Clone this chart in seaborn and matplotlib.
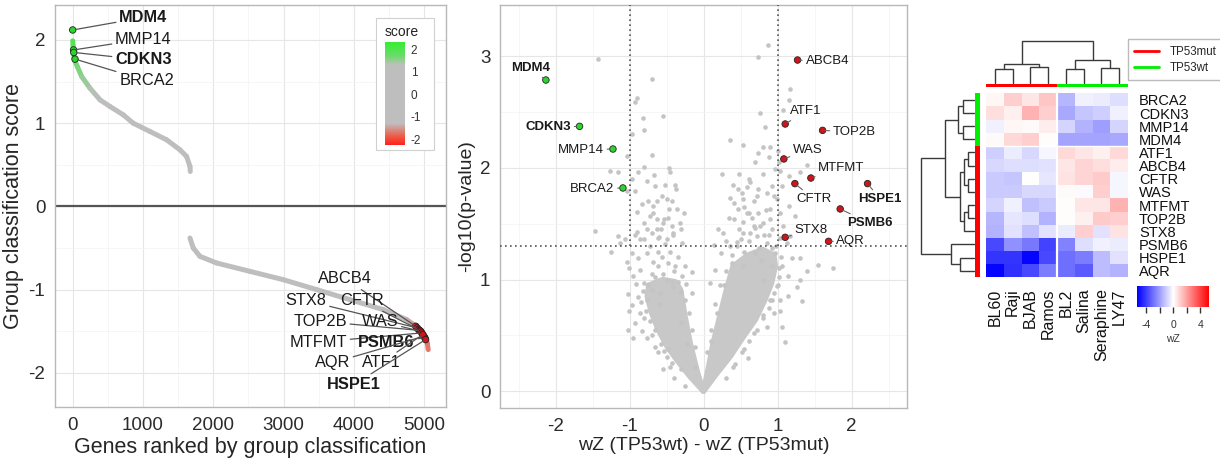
import numpy as np
import pandas as pd
import matplotlib
matplotlib.use("Agg")
import matplotlib.pyplot as plt
import seaborn as sns
from matplotlib.collections import LineCollection
from matplotlib.colors import LinearSegmentedColormap, Normalize
from matplotlib.cm import ScalarMappable
from matplotlib.lines import Line2D
from matplotlib.patches import Rectangle
from matplotlib.ticker import MultipleLocator, FixedLocator

# ======================= DATA =======================
# Panel A: genes ranked by group classification score (curve)
rank_pos = [0, 5, 12, 22, 35, 66, 128, 246, 389, 531, 720, 860, 1100, 1336, 1526, 1620, 1668, 1672]
score_pos = [1.99, 1.93, 1.85, 1.79, 1.74, 1.68, 1.56, 1.42, 1.28, 1.20, 1.10, 1.00, 0.90, 0.80, 0.68, 0.60, 0.48, 0.42]
rank_neg = [1668, 1715, 1810, 2047, 2520, 2995, 3470, 3943, 4417, 4750, 4850, 4940, 4990, 5020, 5045, 5057]
score_neg = [-0.38, -0.50, -0.60, -0.68, -0.78, -0.88, -1.00, -1.12, -1.24, -1.36, -1.42, -1.48, -1.53, -1.58, -1.65, -1.72]

genes_a = ["MDM4", "MMP14", "CDKN3", "BRCA2", "ABCB4", "STX8", "CFTR", "TOP2B",
           "WAS", "MTFMT", "PSMB6", "AQR", "ATF1", "HSPE1"]
rank_a = [0, 12, 15, 33, 4880, 4900, 4920, 4935, 4950, 4965, 5010, 4995, 4980, 5020]
score_a = [2.12, 1.88, 1.85, 1.77, -1.44, -1.46, -1.48, -1.49, -1.50, -1.52, -1.58, -1.56, -1.54, -1.60]
bold_genes = ["MDM4", "CDKN3", "PSMB6", "HSPE1"]

# Panel B: volcano plot
vol_genes = ["MDM4", "CDKN3", "MMP14", "BRCA2", "ABCB4", "ATF1", "TOP2B", "WAS",
             "MTFMT", "CFTR", "HSPE1", "PSMB6", "STX8", "AQR"]
vol_wz = [-2.13, -1.675, -1.224, -1.089, 1.271, 1.104, 1.609, 1.086, 1.451, 1.235, 2.217, 1.847, 1.104, 1.690]
vol_logp = [2.788, 2.373, 2.170, 1.821, 2.967, 2.394, 2.337, 2.081, 1.910, 1.860, 1.860, 1.633, 1.379, 1.343]
vol_group = ["TP53wt"] * 4 + ["TP53mut"] * 10

bg_wz = [-1.42, -0.70, -0.90, -0.92, -0.55, -0.82, -0.80, -0.97, -0.69, -1.04, -1.26, -1.16, -0.88, -0.80,
         -0.67, -0.46, -0.45, -0.77, -0.38, -0.37, -0.97, -1.04, -0.92, -0.65, -0.56, -0.63, -0.50, -0.68,
         -0.83, -0.36, -0.90, -0.72, -0.63, -0.55, -0.81, -0.43, -0.77, -0.70, -0.61, -0.50, -0.41, -1.47,
         -1.15, -1.06, -0.92, -0.86, -1.25, -1.13,
         -1.02, -0.95, -1.01, -1.02, -0.97, -1.04, -1.01, -0.91, -0.89, -0.92, -0.83, -0.77, -0.65, -0.50,
         -0.54, -0.45, -0.16, -0.23, -0.29, -0.30, -0.16, -0.97, -0.88, -0.77, -0.68, -0.61, -0.41, -0.54,
         -0.68, -0.47, -0.63, -0.81, -0.90, -0.32, -0.38, -0.29, -0.95, -0.81, -0.70, -0.86, -0.50, -0.59,
         -0.77, -0.41,
         -0.62, -0.70, -0.80, -0.84, -0.55, -0.40, -0.25, -0.30, -0.22, -0.12, -0.42, -0.55, -0.70,
         -0.30, -0.42, -0.48, -0.58, -0.66, -0.72, -0.78, -0.82, -0.86, -0.75, -0.65, -0.60,
         -0.12, -0.15, -0.20, -0.25, -0.35, -0.40, -0.48, -0.56, -0.62, -0.45, -0.35, -0.25, -0.52, -0.60,
         -0.72, -0.30, -0.58, -0.48, -0.75, -0.42, -0.27, -0.52,
         0.87, 0.74, 1.17, 1.15, 0.77, 1.08, 0.83, 0.36, 0.54, 0.80, 0.90, 1.01, 0.74, 0.88, 1.40, 0.97,
         1.04, 1.15, 1.31, 0.63, 0.59, 0.47, 0.52, 0.74, 0.86, 0.92, 1.06, 0.36, 0.41, 0.54, 0.68, 0.99,
         1.15, 0.47, 0.61, 0.74, 0.90, 1.04, 1.24, 0.54, 0.68, 0.81, 0.92, 1.08, 0.54, 0.72, 0.88, 1.04,
         0.45,
         1.19, 1.31, 1.40, 1.55, 1.75, 1.06, 1.14, 1.31, 1.26, 1.33, 0.14, 1.10, 1.06, 1.04, 1.14,
         0.23, 0.36, 0.50, 0.63, 0.77, 0.90, 0.41, 0.59, 0.27, 0.86, 0.97, 0.92, 0.81, 0.99, 0.90, 0.95,
         0.86, 1.04, 0.70, 0.54, 0.16, 0.09, 1.13, 1.17,
         0.55, 0.68, 0.80, 0.92, 1.00, 0.30, 0.42, 0.10, 0.18, 0.28, 0.38, 0.55, 0.75, 1.02,
         0.40, 0.52, 0.62, 0.72, 0.80, 0.88, 0.95, 1.02, 1.05, 0.98, 0.60,
         0.05, 0.10, 0.15, 0.22, 0.30, 0.38, 0.45, 0.30, 0.20, 0.35, 0.48, 0.62, 0.70, 0.82, 0.92, 0.78,
         0.66, 0.55, 0.85, 0.72, 0.95, 0.62, 0.80, 1.02, 0.70, 0.48, 0.40, 0.25]
bg_logp = [2.98, 2.80, 2.63, 2.59, 2.47, 2.45, 2.34, 2.30, 2.12, 2.11, 1.97, 1.96, 1.96, 2.01,
           1.94, 2.00, 1.96, 1.88, 1.85, 1.81, 1.90, 1.79, 1.79, 1.84, 1.75, 1.70, 1.72, 1.66,
           1.68, 1.63, 1.61, 1.57, 1.54, 1.51, 1.51, 1.48, 1.45, 1.42, 1.37, 1.36, 1.40, 1.44,
           1.39, 1.36, 1.40, 1.36, 1.25, 1.33,
           0.55, 0.48, 0.72, 0.87, 0.77, 1.16, 1.10, 0.96, 0.84, 0.61, 0.54, 0.48, 0.40, 0.31,
           0.36, 0.22, 1.07, 0.96, 1.33, 0.89, 0.88, 1.24, 1.19, 1.24, 1.16, 1.25, 1.42, 1.54,
           1.60, 1.63, 1.45, 1.36, 1.43, 1.51, 1.12, 1.03, 1.03, 0.97, 0.91, 1.09, 1.00, 0.88,
           0.82, 0.93,
           0.35, 0.50, 0.66, 0.80, 0.20, 0.12, 0.05, 0.62, 0.42, 0.22, 0.98, 1.05, 1.05,
           0.20, 0.25, 0.38, 0.42, 0.55, 0.63, 0.72, 0.90, 0.70, 0.95, 1.02, 0.78,
           0.40, 0.55, 0.70, 0.82, 0.98, 1.08, 1.15, 1.20, 1.12, 1.25, 1.20, 1.12, 1.32, 1.38,
           1.30, 1.45, 1.45, 1.55, 1.70, 1.70, 1.60, 1.85,
           3.10, 2.99, 2.71, 2.61, 2.49, 2.52, 2.37, 2.25, 2.21, 2.19, 2.19, 2.15, 2.13, 2.10, 2.03, 1.99,
           1.97, 1.93, 1.96, 1.87, 1.83, 1.81, 1.78, 1.81, 1.78, 1.84, 1.84, 1.73, 1.69, 1.72, 1.70, 1.72,
           1.66, 1.63, 1.60, 1.60, 1.63, 1.60, 1.57, 1.52, 1.48, 1.51, 1.45, 1.48, 1.42, 1.39, 1.40, 1.37,
           1.34,
           1.19, 1.19, 1.08, 1.13, 1.10, 1.12, 1.03, 1.00, 0.93, 0.81, 1.31, 0.44, 0.58, 0.72, 0.85,
           1.24, 1.30, 1.36, 1.42, 1.48, 1.54, 1.54, 1.60, 1.42, 1.33, 1.24, 1.12, 1.00, 0.94, 0.82, 0.70,
           0.58, 0.82, 1.24, 1.12, 1.09, 0.97, 1.33, 1.39,
           0.38, 0.52, 0.66, 0.82, 0.95, 0.12, 0.24, 0.45, 0.70, 0.95, 1.15, 1.25, 1.28, 1.10,
           0.22, 0.35, 0.45, 0.55, 0.68, 0.75, 0.88, 1.02, 1.20, 1.30, 0.30,
           0.35, 0.55, 0.78, 0.95, 1.08, 1.22, 1.30, 1.35, 1.45, 1.55, 1.45, 1.35, 1.46, 1.40, 1.28, 1.18,
           1.55, 1.65, 1.62, 1.75, 1.75, 1.90, 1.95, 2.05, 2.05, 1.95, 1.85, 1.95]

# dense core of the two volcano arms (outline)
core_left_wz = [0.0, -0.18, -0.36, -0.49, -0.61, -0.70, -0.76, -0.74, -0.55, -0.38, -0.31, -0.25, -0.18, -0.09, -0.02]
core_left_logp = [0.0, 0.13, 0.28, 0.40, 0.55, 0.70, 0.85, 0.95, 1.00, 0.98, 0.91, 0.67, 0.43, 0.19, 0.03]
core_right_wz = [0.0, 0.18, 0.36, 0.54, 0.70, 0.83, 0.92, 0.97, 0.95, 0.80, 0.60, 0.40, 0.31, 0.22, 0.13, 0.07, 0.01]
core_right_logp = [0.0, 0.16, 0.31, 0.49, 0.64, 0.82, 0.97, 1.12, 1.22, 1.27, 1.22, 1.12, 0.91, 0.67, 0.43, 0.22, 0.03]

wz_cut = 1.0
p_cut = 0.05

# Panel C: heatmap
hm_rows = ["BRCA2", "CDKN3", "MMP14", "MDM4", "ATF1", "ABCB4", "CFTR", "WAS",
           "MTFMT", "TOP2B", "STX8", "PSMB6", "HSPE1", "AQR"]
hm_cols = ["BL60", "Raji", "BJAB", "Ramos", "BL2", "Salina", "Seraphine", "LY47"]
hm_row_group = ["TP53wt"] * 4 + ["TP53mut"] * 10
hm_col_group = ["TP53mut"] * 4 + ["TP53wt"] * 4
hm_values = [
    [0.2, 1.0, 0.5, 1.2, -1.5, -0.3, -0.4, -0.7],
    [0.7, 0.3, 1.6, 1.0, -1.8, -1.2, -1.0, -0.3],
    [-0.3, 0.2, 0.1, 0.4, -0.9, -1.6, -2.0, -0.9],
    [0.1, 0.8, 1.0, 0.05, -1.9, -1.9, -1.9, -1.8],
    [-1.0, -0.4, -0.8, -0.2, 0.8, 0.5, 0.3, 0.8],
    [-0.8, -0.7, -0.7, -0.6, 0.5, 0.9, 0.7, 0.4],
    [-1.1, -1.2, 0.0, -0.5, 0.6, 0.9, 1.1, -0.2],
    [-1.1, -1.1, -0.8, -0.8, 0.1, -0.1, 1.0, -0.2],
    [-0.9, -0.3, -1.3, -1.1, 0.05, 0.5, 0.5, 1.6],
    [-1.5, -0.5, -0.7, -1.6, 0.05, 0.3, 1.1, 1.0],
    [-1.6, -0.6, -1.3, -0.6, -0.4, 1.0, -0.6, 0.6],
    [-3.8, -2.3, -2.8, -3.9, -2.6, -0.7, -0.3, -0.4],
    [-4.2, -4.2, -5.2, -3.8, -3.0, -2.7, -1.4, -0.6],
    [-5.2, -4.3, -3.8, -2.7, -3.0, -3.4, -1.4, -1.6],
]
# dendrogram merges: (child a, child b, height)
row_merges = [(0, 1, 0.21), (2, 3, 0.21), (14, 15, 0.31), (4, 5, 0.11), (6, 7, 0.11),
              (17, 18, 0.19), (8, 9, 0.11), (20, 10, 0.19), (19, 21, 0.27), (16, 22, 0.55),
              (12, 13, 0.27), (11, 24, 0.44), (23, 25, 1.0)]
col_merges = [(0, 1, 0.34), (2, 3, 0.38), (8, 9, 0.44), (4, 5, 0.34), (6, 7, 0.36),
              (11, 12, 0.54), (10, 13, 1.0)]

# ======================= STYLE =======================
sns.set_style("white")
plt.rcParams["font.family"] = ["Liberation Sans", "DejaVu Sans"]
plt.rcParams["axes.unicode_minus"] = False

W, H = 1220, 462
fig = plt.figure(figsize=(W / 100, H / 100), dpi=100)


def px(l, t, r, b):
    return [l / W, 1 - b / H, (r - l) / W, (b - t) / H]


def gg_axes(ax):
    ax.set_facecolor("white")
    ax.grid(which="major", color="#e6e6e6", lw=0.8)
    ax.grid(which="minor", color="#f3f3f3", lw=0.5)
    ax.set_axisbelow(True)
    for s in ax.spines.values():
        s.set_color("#b8b8b8")
        s.set_linewidth(1.0)
    ax.tick_params(which="major", length=3.5, width=0.8, color="#333333", labelcolor="#2b2b2b")
    ax.tick_params(which="minor", length=0)


GREEN = "#2bd52b"
RED = "#d0141a"

# ======================= PANEL A =======================
ax1 = fig.add_axes(px(55, 5, 446, 407))
gg_axes(ax1)
score_nodes = [-2.25, -1.9, -1.3, 1.3, 1.75, 2.34]
score_cols = ["#ff1f1f", "#f0553f", "#bebebe", "#bebebe", "#66dd66", "#33ee33"]
vmin_s, vmax_s = score_nodes[0], score_nodes[-1]
score_cmap = LinearSegmentedColormap.from_list(
    "score", [((v - vmin_s) / (vmax_s - vmin_s), c) for v, c in zip(score_nodes, score_cols)])
score_norm = Normalize(vmin_s, vmax_s)

for rk, sc in [(rank_pos, score_pos), (rank_neg, score_neg)]:
    pts = np.column_stack([rk, sc])
    segs = np.stack([pts[:-1], pts[1:]], axis=1)
    mids = (pts[:-1, 1] + pts[1:, 1]) / 2
    lc = LineCollection(segs, colors=score_cmap(score_norm(mids)), linewidths=3.6, capstyle="round",
                        joinstyle="round")
    ax1.add_collection(lc)

ax1.axhline(0, color="#555555", lw=1.6)
df_a = pd.DataFrame({"rank": rank_a, "score": score_a, "gene": genes_a})
df_a["grp"] = np.where(df_a["score"] > 0, "wt", "mut")
sns.scatterplot(data=df_a, x="rank", y="score", hue="grp", palette={"wt": GREEN, "mut": RED},
                s=22, edgecolor="#222222", linewidth=0.6, legend=False, ax=ax1, zorder=5)

label_pos_a = {"MDM4": (1005, 2.27), "MMP14": (1005, 2.01), "CDKN3": (1005, 1.76), "BRCA2": (1052, 1.51),
               "ABCB4": (3877, -0.87), "STX8": (3318, -1.13), "CFTR": (4109, -1.13), "TOP2B": (3517, -1.38),
               "WAS": (4370, -1.38), "MTFMT": (3493, -1.63), "PSMB6": (4464, -1.63), "AQR": (3692, -1.88),
               "ATF1": (4384, -1.88), "HSPE1": (4000, -2.14)}
for g, r, s in zip(genes_a, rank_a, score_a):
    lx, ly = label_pos_a[g]
    ax1.annotate(g, xy=(r, s), xytext=(lx, ly), ha="center", va="center", fontsize=11.8,
                 fontweight="bold" if g in bold_genes else "normal", color="#1a1a1a", zorder=6,
                 arrowprops=dict(arrowstyle="-", color="#555555", lw=0.9, shrinkA=0, shrinkB=2))

ax1.set_xlim(-252, 5310)
ax1.set_ylim(-2.41, 2.42)
ax1.xaxis.set_major_locator(FixedLocator([0, 1000, 2000, 3000, 4000, 5000]))
ax1.xaxis.set_minor_locator(MultipleLocator(500))
ax1.yaxis.set_major_locator(FixedLocator([-2, -1, 0, 1, 2]))
ax1.yaxis.set_minor_locator(MultipleLocator(0.5))
ax1.tick_params(labelsize=13.5)
ax1.set_xlabel("Genes ranked by group classification", fontsize=15.5, labelpad=2)
ax1.set_ylabel("Group classification score", fontsize=15.5, labelpad=3)

# score legend (frame drawn in panel A, colorbar axes above it)
frame = Rectangle((375.7 / W, 1 - 150 / H), (434 - 375.7) / W, (150 - 18.3) / H, transform=fig.transFigure,
                  facecolor="white", edgecolor="#d0d0d0", lw=0.8, zorder=10, clip_on=False)
ax1.add_artist(frame)
ax1.text(401.5 / W, 1 - 32 / H, "score", transform=fig.transFigure, ha="center", va="center",
         fontsize=10, color="#222222", zorder=11)
cax1 = fig.add_axes(px(385, 41.7, 405, 145))
cax1.set_zorder(5)
cb1 = fig.colorbar(ScalarMappable(score_norm, score_cmap), cax=cax1)
cb1.set_ticks([-2, -1, 0, 1, 2])
cb1.outline.set_visible(False)
cax1.tick_params(labelsize=8.5, length=3, color="white", direction="in", pad=4, labelcolor="#333333")

# ======================= PANEL B =======================
ax2 = fig.add_axes(px(500, 5, 907, 408))
gg_axes(ax2)
ax2.fill(core_left_wz, core_left_logp, color="#c8c8c8", lw=4, joinstyle="round", zorder=1)
ax2.fill(core_right_wz, core_right_logp, color="#c8c8c8", lw=4, joinstyle="round", zorder=1)
sns.scatterplot(x=bg_wz, y=bg_logp, color="#c4c4c4", s=11, linewidth=0, ax=ax2, zorder=2)

thr = -np.log10(p_cut)
ax2.axhline(thr, color="#555555", lw=1.2, ls=(0, (1, 2)), zorder=3)
ax2.plot([-wz_cut, -wz_cut], [thr, 3.46], color="#555555", lw=1.2, ls=(0, (1, 2)), zorder=3)
ax2.plot([wz_cut, wz_cut], [thr, 3.46], color="#555555", lw=1.2, ls=(0, (1, 2)), zorder=3)

df_b = pd.DataFrame({"wz": vol_wz, "logp": vol_logp, "grp": vol_group, "gene": vol_genes})
sns.scatterplot(data=df_b, x="wz", y="logp", hue="grp", palette={"TP53wt": GREEN, "TP53mut": RED},
                s=22, edgecolor="#222222", linewidth=0.6, legend=False, ax=ax2, zorder=5)
label_pos_b = {"MDM4": (-2.342, 2.895), "CDKN3": (-2.098, 2.364), "MMP14": (-1.657, 2.164),
               "BRCA2": (-1.504, 1.812), "ABCB4": (1.672, 2.955), "ATF1": (1.383, 2.507),
               "TOP2B": (2.041, 2.322), "WAS": (1.410, 2.164), "MTFMT": (1.865, 2.000),
               "CFTR": (1.491, 1.722), "HSPE1": (2.388, 1.722), "PSMB6": (2.244, 1.507),
               "STX8": (1.455, 1.448), "AQR": (1.991, 1.343)}
for g, x, y in zip(vol_genes, vol_wz, vol_logp):
    lx, ly = label_pos_b[g]
    ax2.annotate(g, xy=(x, y), xytext=(lx, ly), ha="center", va="center", fontsize=9.5,
                 fontweight="bold" if g in bold_genes else "normal", color="#1a1a1a", zorder=6,
                 arrowprops=dict(arrowstyle="-", color="#666666", lw=0.8, shrinkA=0, shrinkB=2))

ax2.set_xlim(-2.75, 2.75)
ax2.set_ylim(-0.15, 3.46)
ax2.xaxis.set_major_locator(FixedLocator([-2, -1, 0, 1, 2]))
ax2.xaxis.set_minor_locator(MultipleLocator(0.5))
ax2.yaxis.set_major_locator(FixedLocator([0, 1, 2, 3]))
ax2.yaxis.set_minor_locator(MultipleLocator(0.5))
ax2.tick_params(labelsize=13.5)
ax2.set_xlabel("wZ (TP53wt) - wZ (TP53mut)", fontsize=14, labelpad=2)
ax2.set_ylabel("-log10(p-value)", fontsize=14, labelpad=3)

# ======================= PANEL C =======================
hm_cmap = LinearSegmentedColormap.from_list("bwr2", ["#0000ff", "#ffffff", "#ff0000"])
hm_lim = 5.3
axh = fig.add_axes(px(986, 93.3, 1128, 277.3))
hm_df = pd.DataFrame(hm_values, index=hm_rows, columns=hm_cols)
sns.heatmap(hm_df, ax=axh, cmap=hm_cmap, vmin=-hm_lim, vmax=hm_lim, cbar=False,
            xticklabels=True, yticklabels=True)
axh.axvline(4, color="white", lw=1.6)
axh.axhline(4, color="white", lw=1.0)
axh.yaxis.set_ticks_position("right")
axh.tick_params(axis="y", length=0, pad=8, labelright=True, labelleft=False, labelsize=10.5,
                labelcolor="#111111", labelrotation=0)
axh.tick_params(axis="x", length=0, pad=8, labelsize=11.5, labelcolor="#111111", labelrotation=90)
axh.set_xlabel("")
axh.set_ylabel("")

group_col = {"TP53mut": "#ff0000", "TP53wt": "#00ee00"}


def draw_dendro(ax, merges, n_leaves, orient):
    pos = {i: i + 0.5 for i in range(n_leaves)}
    hgt = {i: 0.0 for i in range(n_leaves)}
    node = n_leaves
    for a, b, h in merges:
        xs = [pos[a], pos[a], pos[b], pos[b]]
        ys = [hgt[a], h, h, hgt[b]]
        if orient == "top":
            ax.plot(xs, ys, color="#3a3a3a", lw=1.0, clip_on=False, solid_joinstyle="miter")
        else:
            ax.plot(ys, xs, color="#3a3a3a", lw=1.0, clip_on=False, solid_joinstyle="miter")
        pos[node] = (pos[a] + pos[b]) / 2
        hgt[node] = h
        node += 1


axcd = fig.add_axes(px(986, 41, 1128, 82.7))
draw_dendro(axcd, col_merges, len(hm_cols), "top")
axcd.set_xlim(0, len(hm_cols))
axcd.set_ylim(0, 1)
axcd.axis("off")

axrd = fig.add_axes(px(921, 93.3, 974, 277.3))
draw_dendro(axrd, row_merges, len(hm_rows), "left")
axrd.set_ylim(len(hm_rows), 0)
axrd.set_xlim(1, 0)
axrd.axis("off")

axcb = fig.add_axes(px(986, 83.5, 1128, 87))
for i, g in enumerate(hm_col_group):
    axcb.axvspan(i, i + 1, color=group_col[g], lw=0)
axcb.set_xlim(0, len(hm_cols))
axcb.axis("off")

axrb = fig.add_axes(px(975, 93.3, 979.5, 277.3))
for i, g in enumerate(hm_row_group):
    axrb.axhspan(i, i + 1, color=group_col[g], lw=0)
axrb.set_ylim(len(hm_rows), 0)
axrb.axis("off")

fig.legend(handles=[Line2D([], [], color=group_col["TP53mut"], lw=2, label="TP53mut"),
                    Line2D([], [], color=group_col["TP53wt"], lw=2, label="TP53wt")],
           loc="upper left", bbox_to_anchor=(1127.7 / W, 1 - 39.3 / H), frameon=True, fancybox=False,
           edgecolor="#aaaaaa", fontsize=8.3, handlelength=2.2, borderpad=0.55, labelspacing=0.35,
           handletextpad=0.9, borderaxespad=0)

cax2 = fig.add_axes(px(1137.3, 286, 1209.3, 307.3))
cb2 = fig.colorbar(ScalarMappable(Normalize(-hm_lim, hm_lim), hm_cmap), cax=cax2, orientation="horizontal")
cb2.outline.set_visible(False)
cb2.set_ticks([-4, 0, 4])
cax2.xaxis.set_minor_locator(FixedLocator([-2, 2]))
cax2.tick_params(which="both", length=4, width=1, color="#333333", labelsize=7.5, pad=5, labelcolor="#333333")
cb2.set_label("wZ", fontsize=7.5, color="#333333", labelpad=3)

fig.savefig("out.png", dpi=100)
